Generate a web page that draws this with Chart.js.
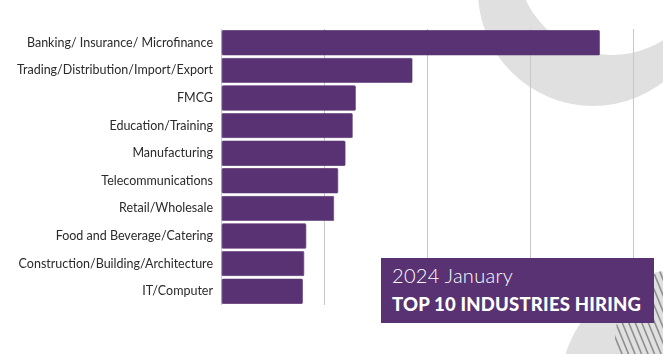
<!DOCTYPE html>
<html>
<head>
<meta charset="utf-8">
<script src="https://cdn.jsdelivr.net/npm/chart.js@4"></script>
<style>
  html, body { margin: 0; padding: 0; background: #fff; }
  #wrap { position: relative; width: 663px; height: 354px; overflow: hidden; }
  canvas { position: absolute; left: 0; top: 0; }
  #box { position: absolute; left: 381px; top: 258px; width: 273px; height: 65px; background: #583272; color: #fff; }
  #sub { position: absolute; left: 11px; top: 5px; font: 300 20px Lato, sans-serif; white-space: nowrap; letter-spacing: 0.3px; }
  #ttl { position: absolute; left: 11px; top: 35px; font: 900 18.5px Lato, sans-serif; white-space: nowrap; letter-spacing: 0.2px; }
</style>
</head>
<body>
<div id="wrap">
  <canvas id="c" width="663" height="354"></canvas>
  <div id="box"><div id="sub">2024 January</div><div id="ttl">TOP 10 INDUSTRIES HIRING</div></div>
</div>
<script>
const categories = [
  "Banking/ Insurance/ Microfinance",
  "Trading/Distribution/Import/Export",
  "FMCG",
  "Education/Training",
  "Manufacturing",
  "Telecommunications",
  "Retail/Wholesale",
  "Food and Beverage/Catering",
  "Construction/Building/Architecture",
  "IT/Computer"
];
const hiringShare = [18.4, 9.3, 6.55, 6.4, 6.05, 5.7, 5.5, 4.15, 4.05, 3.98];
const xTicks = [0, 5, 10, 15, 20];

const bgShapes = {
  id: 'bgShapes',
  beforeDraw(chart) {
    const ctx = chart.ctx;
    ctx.save();
    // top-right ring
    ctx.fillStyle = '#e0e0e0';
    ctx.beginPath();
    ctx.arc(593, -9, 115, 0, Math.PI * 2);
    ctx.arc(612, -40, 95, 0, Math.PI * 2, true);
    ctx.fill('evenodd');
    // bottom-right circle
    ctx.beginPath();
    ctx.arc(680, 390, 120, 0, Math.PI * 2);
    ctx.fill();
    // stripes
    ctx.beginPath();
    ctx.arc(690, 340, 75, 0, Math.PI * 2);
    ctx.clip();
    ctx.strokeStyle = '#8f8f8f';
    ctx.lineWidth = 1.6;
    for (let x = 560; x < 720; x += 6.5) {
      ctx.beginPath();
      ctx.moveTo(x, 250);
      ctx.lineTo(x + 45, 360);
      ctx.stroke();
    }
    ctx.restore();
  }
};

new Chart(document.getElementById('c'), {
  type: 'bar',
  data: {
    labels: categories,
    datasets: [{
      data: hiringShare,
      backgroundColor: '#583272',
      borderColor: '#4e2a66',
      borderWidth: 0.6,
      borderRadius: 1.5,
      borderSkipped: false,
      barPercentage: 0.92,
      categoryPercentage: 1.0
    }]
  },
  options: {
    indexAxis: 'y',
    responsive: false,
    animation: false,
    devicePixelRatio: 1,
    layout: { padding: { top: 29, bottom: 49, right: 30, left: 0 } },
    plugins: { legend: { display: false }, tooltip: { enabled: false } },
    scales: {
      x: {
        min: 0, max: 20,
        afterBuildTicks(axis) { axis.ticks = xTicks.map(v => ({ value: v })); },
        ticks: { display: false },
        grid: { color: '#c8c8c8', lineWidth: 1, drawTicks: false },
        border: { display: false }
      },
      y: {
        grid: { display: false, drawTicks: false },
        border: { display: false },
        afterFit(axis) { axis.width = 221; },
        ticks: { color: '#2a2a2a', font: { family: 'Lato', size: 12.5 }, padding: 8 }
      }
    }
  },
  plugins: [bgShapes]
});
</script>
</body>
</html>
